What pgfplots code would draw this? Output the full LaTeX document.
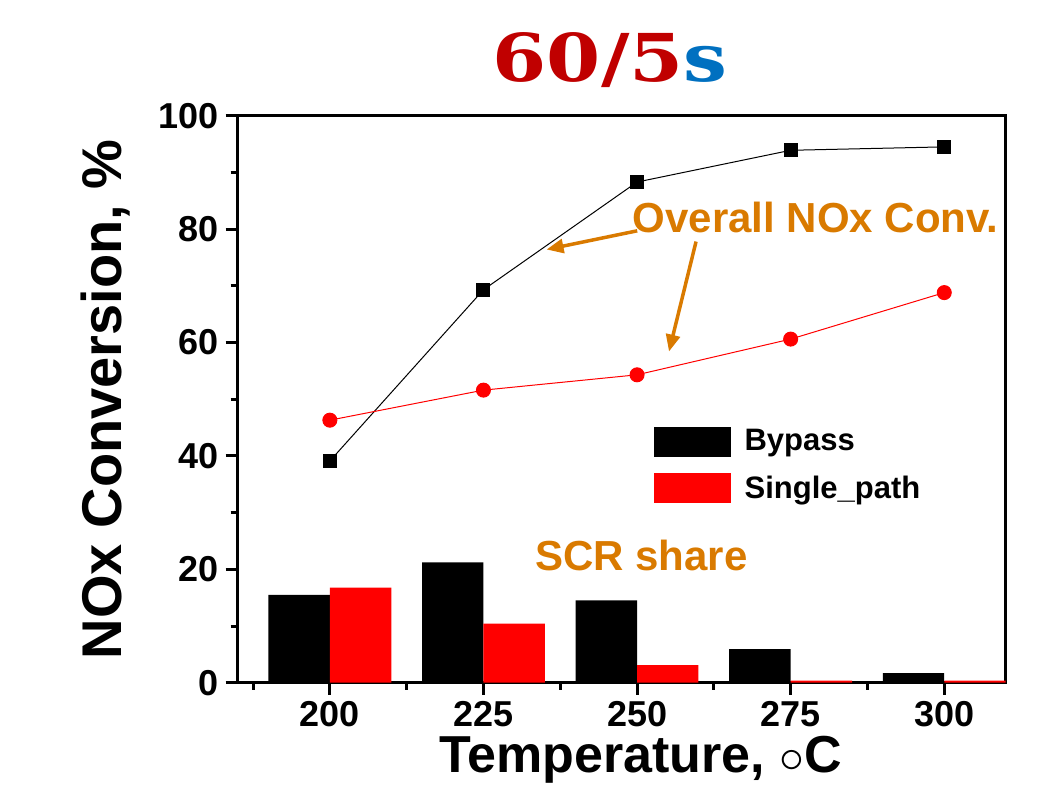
\documentclass[border=0pt]{standalone}
\usepackage{fontspec}
\setmainfont{Liberation Sans}
\newfontfamily\titlefont{DejaVu Serif}
\usepackage{pgfplots}
\pgfplotsset{compat=1.18}
\usetikzlibrary{arrows.meta}
\definecolor{annot}{RGB}{217,122,0}
\definecolor{titlered}{RGB}{192,0,0}
\definecolor{titleblue}{RGB}{0,112,192}

\begin{document}
\begin{tikzpicture}
\begin{axis}[
  scale only axis,
  width=384pt, height=283.5pt,
  xmin=185, xmax=310, ymin=0, ymax=100,
  clip=false,
  axis line style={line width=1.5pt},
  tick style={line width=1.5pt, black},
  major tick length=6pt, minor tick length=3.5pt,
  tick align=outside,
  xtick pos=bottom, ytick pos=left,
  xtick={200,225,250,275,300},
  minor xtick={187.5,212.5,237.5,262.5,287.5},
  ytick={0,20,40,60,80,100},
  minor ytick={10,30,50,70,90},
  /pgf/number format/assume math mode=true,
  ticklabel style={font=\fontsize{18}{20}\selectfont\bfseries},
  xlabel={Temperature, {\fontsize{27}{27}\selectfont$\circ$}C},
  ylabel={NOx Conversion, \%},
  xlabel style={font=\fontsize{26}{28}\selectfont\bfseries,
    at={(axis description cs:0.525,0)}, anchor=base, yshift=-44.7pt},
  ylabel style={font=\fontsize{28}{30}\selectfont\bfseries,
    at={(axis description cs:-0.172,0.5)}, anchor=center},
  legend cell align=left,
  legend style={at={(rel axis cs:0.541,0.4545)}, anchor=north west,
    draw=none, fill=none, inner sep=0pt, row sep=7pt,
    /tikz/every odd column/.append style={column sep=5pt},
    font=\fontsize{15.5}{18}\selectfont\bfseries},
]
\addplot[ybar, bar width=30.7pt, bar shift=-15.36pt, fill=black, draw=none,
  legend image code/.code={\fill[black] (0pt,-7.5pt) rectangle (38.5pt,7.5pt);}]
  coordinates {(200,15.5) (225,21.2) (250,14.5) (275,5.9) (300,1.7)};
\addlegendentry{Bypass}
\addplot[ybar, bar width=30.7pt, bar shift=15.36pt, fill=red, draw=none,
  legend image code/.code={\fill[red] (0pt,-7.5pt) rectangle (38.5pt,7.5pt);}]
  coordinates {(200,16.75) (225,10.4) (250,3.1) (275,0.35) (300,0.35)};
\addlegendentry{Single\_path}

\addplot[black, line width=0.5pt, mark=square*, mark size=3.25pt, forget plot]
  coordinates {(200,39.1) (225,69.3) (250,88.3) (275,93.9) (300,94.5)};
\addplot[red, line width=0.5pt, mark=*, mark size=3.5pt, mark options={fill=red}, forget plot]
  coordinates {(200,46.3) (225,51.6) (250,54.3) (275,60.6) (300,68.8)};

\node[text=annot, font=\fontsize{21}{24}\selectfont\bfseries] at (axis cs:279.05,82.1) {Overall NOx Conv.};
\node[text=annot, font=\fontsize{21}{24}\selectfont\bfseries] at (axis cs:250.7,22.5) {SCR share};
\draw[annot, line width=1.75pt, -{Triangle[length=8.5pt,width=7pt]}]
  (axis cs:250.03,79.7) -- (axis cs:235.27,76.4);
\draw[annot, line width=1.75pt, -{Triangle[length=8.5pt,width=7pt]}]
  (axis cs:259.6,77.8) -- (axis cs:255.2,58.4);

\node[font=\titlefont\bfseries\fontsize{33}{38}\selectfont, anchor=base, yshift=17pt, xscale=1.18]
  at (rel axis cs:0.485,1) {\textcolor{titlered}{60/5}\textcolor{titleblue}{s}};
\end{axis}
\pgfresetboundingbox
\useasboundingbox (-118.85pt,-60.15pt) rectangle (405.65pt,341.35pt);
\end{tikzpicture}
\end{document}
